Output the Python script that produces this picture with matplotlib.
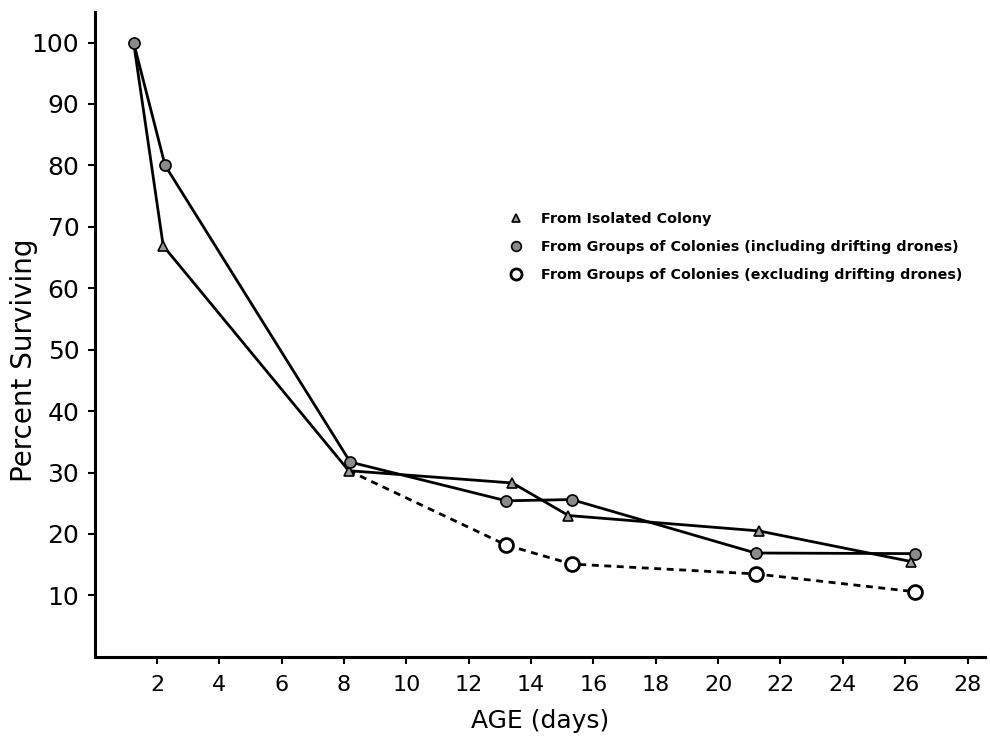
import matplotlib
matplotlib.use("Agg")
import matplotlib.pyplot as plt
from matplotlib.lines import Line2D

# Data
iso_x = [1.25, 2.2, 8.15, 13.4, 15.2, 21.3, 26.2]
iso_y = [100, 66.9, 30.3, 28.3, 23.0, 20.5, 15.5]

incl_x = [1.25, 2.26, 8.2, 13.2, 15.3, 21.2, 26.3]
incl_y = [100, 80.0, 31.7, 25.4, 25.6, 16.9, 16.8]

excl_x = [8.15, 13.2, 15.3, 21.2, 26.3]
excl_y = [30.3, 18.2, 15.1, 13.5, 10.6]

x_ticks = [2, 4, 6, 8, 10, 12, 14, 16, 18, 20, 22, 24, 26, 28]
y_ticks = [10, 20, 30, 40, 50, 60, 70, 80, 90, 100]

labels = ["From Isolated Colony",
          "From Groups of Colonies (including drifting drones)",
          "From Groups of Colonies (excluding drifting drones)"]

fig = plt.figure(figsize=(9.9, 7.38), dpi=100)
ax = fig.add_axes([0.0956, 0.110, 0.899, 0.874])

ax.plot(iso_x, iso_y, color="black", lw=2, zorder=2)
ax.plot(iso_x[1:], iso_y[1:], ls="none", marker="^", ms=7, mfc="#9a9a9a",
        mec="black", mew=1.2, zorder=3)
ax.plot(incl_x, incl_y, color="black", lw=2, marker="o", ms=8, mfc="#8a8a8a",
        mec="black", mew=1.2, zorder=3)
ax.plot(excl_x, excl_y, color="black", lw=2, ls=(0, (2.5, 2)), zorder=2)
ax.plot(excl_x[1:], excl_y[1:], ls="none", marker="o", ms=10, mfc="white",
        mec="black", mew=2, zorder=3)

ax.set_xlim(0, 28.55)
ax.set_ylim(0, 105)
ax.set_xticks(x_ticks)
ax.set_xticklabels([str(t) for t in x_ticks], fontsize=16)
ax.set_yticks(y_ticks)
ax.set_yticklabels([str(t) for t in y_ticks], fontsize=18)
ax.tick_params(axis="both", direction="out", length=5, width=1.5)
ax.tick_params(axis="x", pad=8)
ax.tick_params(axis="y", pad=6)
for s in ["top", "right"]:
    ax.spines[s].set_visible(False)
for s in ["left", "bottom"]:
    ax.spines[s].set_linewidth(2.2)

ax.set_xlabel("AGE (days)", fontsize=18, labelpad=10)
ax.set_ylabel("Percent Surviving", fontsize=20)
ax.yaxis.set_label_coords(-0.064, 0.46)

handles = [
    Line2D([], [], ls="none", marker="^", ms=6, mfc="#9a9a9a", mec="black", mew=1.2),
    Line2D([], [], ls="none", marker="o", ms=7, mfc="#8a8a8a", mec="black", mew=1.2),
    Line2D([], [], ls="none", marker="o", ms=8, mfc="white", mec="black", mew=2),
]
leg = ax.legend(handles, labels, loc="upper left", bbox_to_anchor=(0.4425, 0.710),
                frameon=False, prop={"size": 10.3, "weight": "bold"},
                handletextpad=0.75, labelspacing=1.0)

fig.savefig("out.png", dpi=100)
